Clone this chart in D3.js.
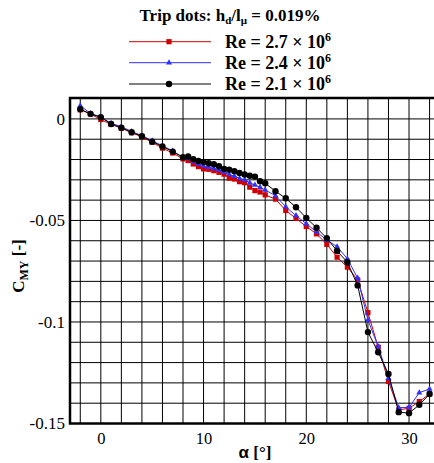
<!DOCTYPE html>
<html><head><meta charset="utf-8">
<script src="https://cdn.jsdelivr.net/npm/d3@7"></script>
<style>body{margin:0;background:#fff}svg{display:block}
.serif{font-family:"Liberation Serif","Times New Roman",Times,serif;}
.sans{font-family:"Liberation Sans",Arial,sans-serif;}
</style>
</head><body>
<script>
const alpha = [-2,-1,0,1,2,3,4,5,6,7,8,8.5,9,9.5,10,10.5,11,11.5,12,12.5,13,13.5,14,14.5,15,15.5,16,17,18,19,20,21,22,23,24,25,26,27,28,29,30,31,32];
const cmyRe27 = [0.0045,0.0024,-0.0003,-0.0027,-0.0046,-0.0068,-0.0088,-0.0115,-0.0144,-0.0168,-0.0197,-0.0205,-0.0222,-0.0235,-0.0246,-0.0248,-0.0255,-0.0263,-0.0272,-0.0292,-0.0296,-0.0309,-0.0314,-0.0336,-0.0353,-0.0360,-0.0374,-0.0395,-0.0451,-0.0490,-0.0530,-0.0566,-0.0618,-0.0681,-0.0730,-0.0793,-0.0954,-0.1124,-0.1293,-0.1433,-0.1425,-0.1392,-0.1354];
const cmyRe24 = [0.0065,0.0027,0.0010,-0.0022,-0.0038,-0.0062,-0.0082,-0.0108,-0.0132,-0.0158,-0.0190,-0.0195,-0.0210,-0.0222,-0.0232,-0.0238,-0.0244,-0.0252,-0.0262,-0.0274,-0.0282,-0.0293,-0.0300,-0.0315,-0.0325,-0.0337,-0.0350,-0.0378,-0.0433,-0.0476,-0.0516,-0.0556,-0.0597,-0.0629,-0.0689,-0.0784,-0.0990,-0.1121,-0.1277,-0.1422,-0.1421,-0.1348,-0.1330];
const cmyRe21 = [0.0048,0.0025,0.0008,-0.0025,-0.0043,-0.0066,-0.0085,-0.0112,-0.0136,-0.0161,-0.0189,-0.0185,-0.0198,-0.0207,-0.0212,-0.0218,-0.0223,-0.0233,-0.0246,-0.0250,-0.0258,-0.0266,-0.0274,-0.0280,-0.0284,-0.0307,-0.0317,-0.0356,-0.0391,-0.0435,-0.0488,-0.0536,-0.0588,-0.0650,-0.0706,-0.0820,-0.1050,-0.1149,-0.1256,-0.1444,-0.1449,-0.1408,-0.1355];
const seriesNames = ["2.7","2.4","2.1"];
const seriesColors = ["#d00000","#3030ff","#000000"];
const seriesShapes = ["square","triangle","circle"];
const xTicks = [0,10,20,30];
const yTicks = [0,-0.05,-0.1,-0.15];

const W = 434, H = 463;
const svg = d3.select("body").append("svg").attr("width",W).attr("height",H);
const x = d3.scaleLinear().domain([-3,32.5]).range([70,434.7]);
const y = d3.scaleLinear().domain([0.0103,-0.15]).range([98,423.5]);

// grid
const gx = d3.range(-2,33,2), gy = d3.range(0,-0.151,-0.01).map(v=>+v.toFixed(2));
svg.append("g").selectAll("line").data(gx).join("line")
  .attr("x1",d=>x(d)).attr("x2",d=>x(d)).attr("y1",y.range()[0]).attr("y2",y.range()[1])
  .attr("stroke","#000").attr("stroke-width",1);
svg.append("g").selectAll("line").data(gy).join("line")
  .attr("x1",x.range()[0]).attr("x2",x.range()[1]).attr("y1",d=>y(d)).attr("y2",d=>y(d))
  .attr("stroke","#000").attr("stroke-width",1);

// frame
svg.append("rect").attr("x",70).attr("y",98).attr("width",x.range()[1]-70+3).attr("height",423.5-98)
  .attr("fill","none").attr("stroke","#000").attr("stroke-width",2.5);

// axes labels (ticks)
const xa = d3.axisBottom(x).tickValues(xTicks).tickSize(0).tickPadding(9).tickFormat(d3.format("d"));
svg.append("g").attr("transform","translate(0,423.5)").call(xa)
  .call(g=>g.select(".domain").remove())
  .call(g=>g.attr("font-family",null).attr("font-size",null))
  .selectAll("text").attr("class","serif").style("font-size","16.5px").attr("fill","#000");
const ya = d3.axisLeft(y).tickValues(yTicks).tickSize(0).tickPadding(5).tickFormat(d=>d===0?"0":String(d));
svg.append("g").attr("transform","translate(70,0)").call(ya)
  .call(g=>g.select(".domain").remove())
  .call(g=>g.attr("font-family",null).attr("font-size",null))
  .selectAll("text").attr("class","serif").style("font-size","17px").attr("fill","#000");

// axis titles
const xt = svg.append("text").attr("x",255).attr("y",458).attr("text-anchor","middle")
  .style("font-size","17px").style("font-weight","bold");
xt.append("tspan").attr("class","sans").text("α");
xt.append("tspan").attr("class","serif").text(" [°]");
const yt = svg.append("text").attr("class","serif").attr("transform","translate(24,266) rotate(-90)").attr("text-anchor","middle")
  .style("font-size","17px").style("font-weight","bold");
yt.append("tspan").text("C");
yt.append("tspan").style("font-size","12px").attr("dy",4).text("MY");
yt.append("tspan").attr("dy",-4).text("  [-]");

// data
const allData = [cmyRe27, cmyRe24, cmyRe21];
const line = d3.line().x(d=>x(d[0])).y(d=>y(d[1]));
function drawMarker(g, shape, color, cx, cy){
  if(shape==="square") g.append("rect").attr("x",cx-2.6).attr("y",cy-2.6).attr("width",5.2).attr("height",5.2).attr("fill",color);
  else if(shape==="triangle") g.append("path").attr("d",d3.symbol(d3.symbolTriangle,16)()).attr("transform",`translate(${cx},${cy})`).attr("fill",color);
  else g.append("circle").attr("cx",cx).attr("cy",cy).attr("r",3.2).attr("fill",color);
}
allData.forEach((vals,i)=>{
  const pts = alpha.map((a,j)=>[a,vals[j]]);
  const g = svg.append("g");
  g.append("path").attr("d",line(pts)).attr("fill","none").attr("stroke",seriesColors[i]).attr("stroke-width",1);
  pts.forEach(p=>drawMarker(g,seriesShapes[i],seriesColors[i],x(p[0]),y(p[1])));
});

// legend
const tt = svg.append("text").attr("class","serif").attr("x",230).attr("y",21).attr("text-anchor","middle")
  .style("font-size","17px").style("font-weight","bold");
tt.append("tspan").text("Trip dots: h");
tt.append("tspan").style("font-size","11px").attr("dy",3).text("d");
tt.append("tspan").attr("dy",-3).text("/l");
tt.append("tspan").style("font-size","11px").attr("dy",3).text("μ");
tt.append("tspan").attr("dy",-3).text(" = 0.019%");
const ly = [41.7,62.7,84];
seriesNames.forEach((n,i)=>{
  const g = svg.append("g");
  g.append("line").attr("x1",129).attr("x2",211).attr("y1",ly[i]).attr("y2",ly[i]).attr("stroke",seriesColors[i]).attr("stroke-width",1);
  drawMarker(g,seriesShapes[i],seriesColors[i],169,ly[i]);
  const t = g.append("text").attr("class","serif").attr("x",225).attr("y",ly[i]+6).style("font-size","18px").style("font-weight","bold");
  t.append("tspan").text(`Re = ${n} × 10`);
  t.append("tspan").style("font-size","12px").attr("dy",-7).text("6");
});
</script>
</body></html>
